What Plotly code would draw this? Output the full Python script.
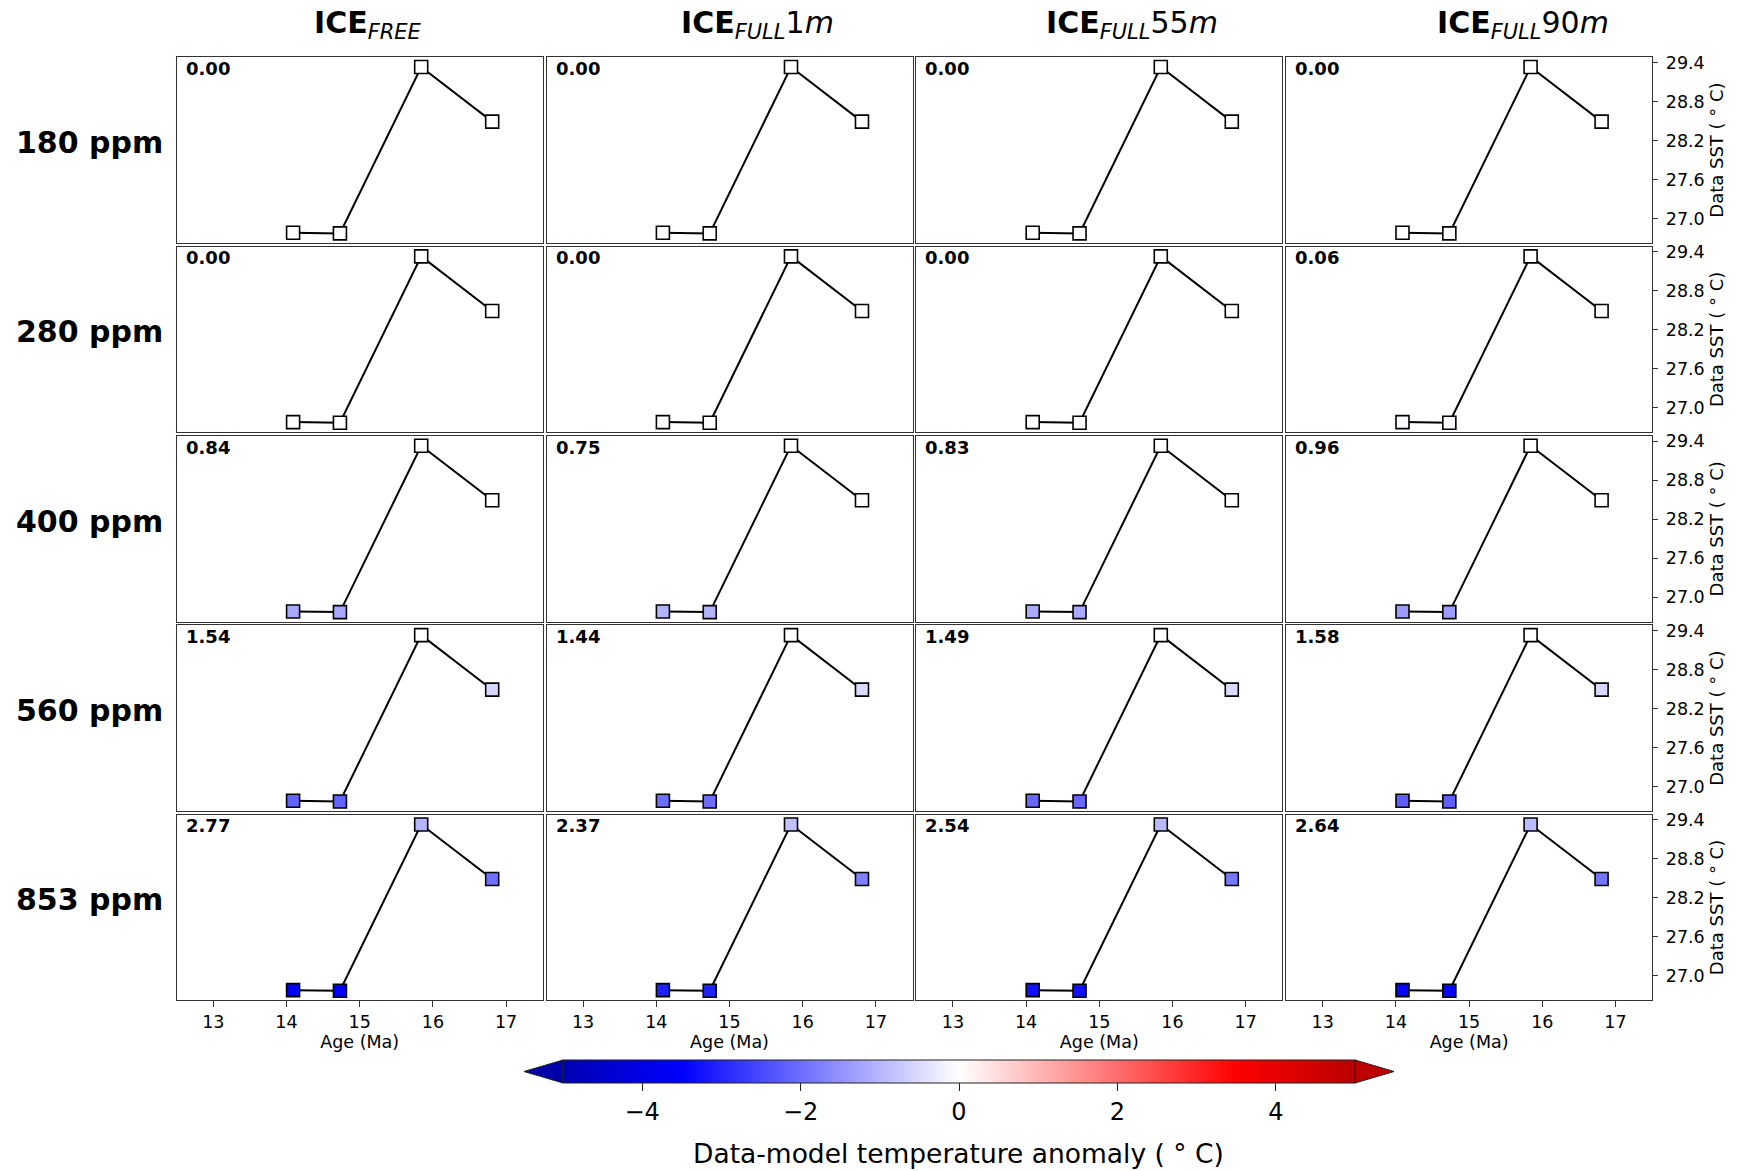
import plotly.graph_objects as go

# ---- data -------------------------------------------------------------
ages = [14.09, 14.73, 15.84, 16.81]          # Age (Ma)
sst = [26.78, 26.77, 29.33, 28.49]           # Data SST (deg C)

co2_levels = ["180 ppm", "280 ppm", "400 ppm", "560 ppm", "853 ppm"]
experiments = [
    "<b>ICE</b><sub><i>FREE</i></sub>",
    "<b>ICE</b><sub><i>FULL</i></sub>1<i>m</i>",
    "<b>ICE</b><sub><i>FULL</i></sub>55<i>m</i>",
    "<b>ICE</b><sub><i>FULL</i></sub>90<i>m</i>",
]

# data-model anomaly at each site, one list per experiment column
anom_180 = [[0, 0, 0, 0], [0, 0, 0, 0], [0, 0, 0, 0], [0, 0, 0, 0]]
anom_280 = [[0, 0, 0, 0], [0, 0, 0, 0], [0, 0, 0, 0], [-0.085, -0.085, 0, 0]]
anom_400 = [[-1.19, -1.19, 0, 0], [-1.06, -1.06, 0, 0],
            [-1.17, -1.17, 0, 0], [-1.36, -1.36, 0, 0]]
anom_560 = [[-2.14, -2.14, 0, -0.55], [-2.0, -2.0, 0, -0.5],
            [-2.08, -2.08, 0, -0.5], [-2.2, -2.2, 0, -0.55]]
anom_853 = [[-3.6, -3.6, -1.0, -1.95], [-3.06, -3.06, -0.85, -1.75],
            [-3.28, -3.28, -0.95, -1.85], [-3.42, -3.42, -0.95, -1.9]]
anomalies = [anom_180, anom_280, anom_400, anom_560, anom_853]

# RMSE printed in each panel
rmse_180 = [0.00, 0.00, 0.00, 0.00]
rmse_280 = [0.00, 0.00, 0.00, 0.06]
rmse_400 = [0.84, 0.75, 0.83, 0.96]
rmse_560 = [1.54, 1.44, 1.49, 1.58]
rmse_853 = [2.77, 2.37, 2.54, 2.64]
rmse = [rmse_180, rmse_280, rmse_400, rmse_560, rmse_853]

sst_ticks = [27.0, 27.6, 28.2, 28.8, 29.4]
age_ticks = [13, 14, 15, 16, 17]
cbar_ticks = [-4, -2, 0, 2, 4]

# ---- layout geometry (pixels) -----------------------------------------
W, H = 1739, 1171
FONT = "DejaVu Sans"
col_left0, col_pitch, panel_w = 176.7, 369.8, 366.0
row_top0, row_pitch, panel_h = 57.3, 189.35, 185.5

colorscale = [
    [0.0, "rgb(0,0,178)"],
    [0.15, "rgb(0,0,255)"],
    [0.5, "rgb(255,255,255)"],
    [0.85, "rgb(255,0,0)"],
    [1.0, "rgb(185,0,0)"],
]


def px_x(p):
    return p / W


def px_y(p):
    return 1 - p / H


fig = go.Figure()
layout = dict(
    width=W, height=H,
    margin=dict(l=0, r=0, t=0, b=0, autoexpand=False),
    paper_bgcolor="white", plot_bgcolor="white",
    font=dict(family=FONT, color="black", size=17),
    showlegend=False,
)
annotations = []

nrows, ncols = len(co2_levels), len(experiments)
for r in range(nrows):
    for c in range(ncols):
        i = r * ncols + c + 1
        xname = "xaxis" if i == 1 else f"xaxis{i}"
        yname = "yaxis" if i == 1 else f"yaxis{i}"
        xref = "x" if i == 1 else f"x{i}"
        yref = "y" if i == 1 else f"y{i}"
        L = col_left0 + c * col_pitch
        T = row_top0 + r * row_pitch

        marker = dict(
            symbol="square", size=13,
            color=anomalies[r][c], colorscale=colorscale, cmin=-5, cmax=5,
            line=dict(color="black", width=1.6),
        )
        if i == 1:
            marker["showscale"] = True
            marker["colorbar"] = dict(
                orientation="h",
                x=px_x(959), xanchor="center",
                y=px_y(1060), yanchor="top",
                len=792, lenmode="pixels",
                thickness=23, thicknessmode="pixels",
                xpad=0, ypad=0,
                outlinewidth=1, outlinecolor="#222",
                tickvals=cbar_ticks, ticks="outside", ticklen=8,
                tickcolor="#222", tickwidth=1,
                tickfont=dict(family=FONT, size=24),
            )
        fig.add_trace(go.Scatter(
            x=ages, y=sst, mode="lines+markers",
            line=dict(color="black", width=2),
            marker=marker, xaxis=xref, yaxis=yref,
            hoverinfo="skip",
        ))

        bottom = r == nrows - 1
        right = c == ncols - 1
        layout[xname] = dict(
            domain=[px_x(L), px_x(L + panel_w)], anchor=yref,
            range=[12.5, 17.5], showgrid=False, zeroline=False,
            showline=True, mirror=True, linecolor="#333", linewidth=1.3,
            tickvals=age_ticks if bottom else [],
            ticks="outside" if bottom else "", ticklen=6, tickcolor="#333",
            showticklabels=bottom,
            tickfont=dict(family=FONT, size=17.5),
            title=dict(text="Age (Ma)" if bottom else "",
                       font=dict(family=FONT, size=17.5), standoff=4),
        )
        layout[yname] = dict(
            domain=[px_y(T + panel_h), px_y(T)], anchor=xref,
            range=[26.625, 29.48], showgrid=False, zeroline=False,
            showline=True, mirror=True, linecolor="#333", linewidth=1.3,
            side="right",
            tickvals=sst_ticks if right else [],
            tickformat=".1f",
            ticks="outside" if right else "", ticklen=5, tickcolor="#333",
            ticklabelstandoff=4,
            showticklabels=right,
            tickfont=dict(family=FONT, size=17.5),
            title=dict(text="Data SST ( \u00b0 C)" if right else "",
                       font=dict(family=FONT, size=18), standoff=6),
        )

        annotations.append(dict(
            text=f"<b>{rmse[r][c]:.2f}</b>", xref="paper", yref="paper",
            x=px_x(L + 7), y=px_y(T - 1.5), xanchor="left", yanchor="top",
            showarrow=False, font=dict(family=FONT, size=18),
        ))

# column headers
header_left = [312.0, 678.5, 1043.5, 1434.5]
for c, txt in enumerate(experiments):
    annotations.append(dict(
        text=txt, xref="paper", yref="paper",
        x=px_x(header_left[c]), y=px_y(24.5), xanchor="left", yanchor="middle",
        showarrow=False, font=dict(family=FONT, size=30),
    ))

# CO2 row labels
for r, lab in enumerate(co2_levels):
    T = row_top0 + r * row_pitch
    annotations.append(dict(
        text=f"<b>{lab}</b>", xref="paper", yref="paper",
        x=px_x(164.5), y=px_y(T + 85), xanchor="right", yanchor="middle",
        showarrow=False, font=dict(family=FONT, size=30),
    ))

# colour bar label
annotations.append(dict(
    text="Data-model temperature anomaly ( \u00b0 C)", xref="paper", yref="paper",
    x=px_x(959), y=px_y(1153), xanchor="center", yanchor="middle",
    showarrow=False, font=dict(family=FONT, size=26.5),
))

layout["annotations"] = annotations

# extension triangles at both ends of the colour bar
cb_l, cb_r, cb_t, cb_b, tip = 563, 1355, 1060, 1083, 39
cb_mid = (cb_t + cb_b) / 2
shapes = [
    dict(type="path", xref="paper", yref="paper",
         path=(f"M {px_x(cb_l)},{px_y(cb_t)} L {px_x(cb_l - tip)},{px_y(cb_mid)} "
               f"L {px_x(cb_l)},{px_y(cb_b)} Z"),
         fillcolor="rgb(0,0,170)", line=dict(color="#222", width=1)),
    dict(type="path", xref="paper", yref="paper",
         path=(f"M {px_x(cb_r)},{px_y(cb_t)} L {px_x(cb_r + tip)},{px_y(cb_mid)} "
               f"L {px_x(cb_r)},{px_y(cb_b)} Z"),
         fillcolor="rgb(190,0,0)", line=dict(color="#222", width=1)),
]
layout["shapes"] = shapes

fig.update_layout(**layout)
fig.write_html("out.html")
